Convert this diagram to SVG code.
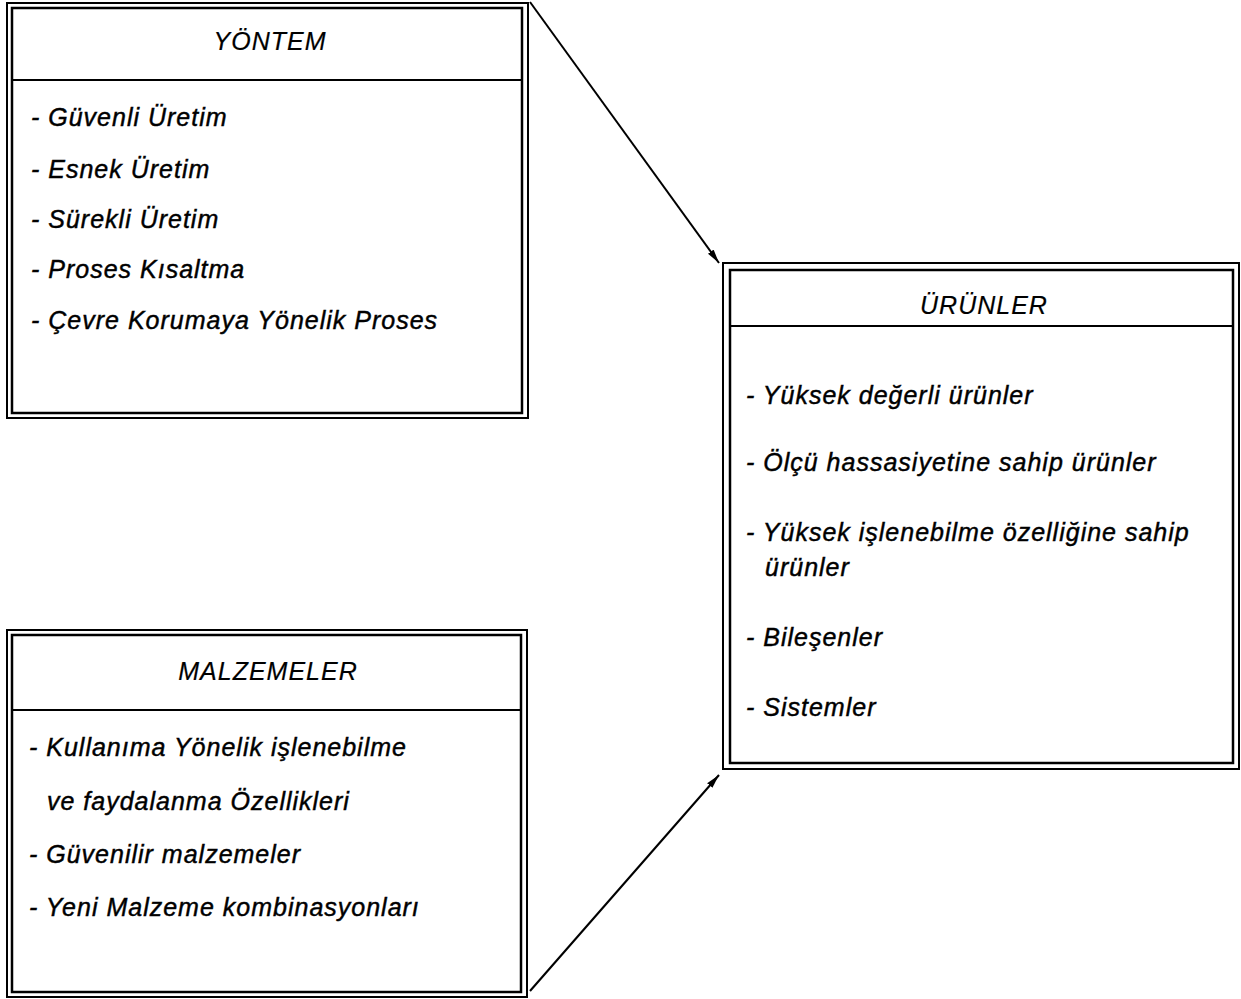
<svg xmlns="http://www.w3.org/2000/svg" width="1241" height="999" viewBox="0 0 1241 999">
<style>
.o{fill:none;stroke:#000;stroke-width:2}
.i{fill:none;stroke:#000;stroke-width:2.5}
.d{stroke:#000;stroke-width:2}
.t{font-family:"Liberation Sans",Arial,sans-serif;font-style:italic;font-size:25px;letter-spacing:1px;fill:#000;stroke:#000;stroke-width:0.45px}
.h{stroke-width:0.2px}
.c{text-anchor:middle}
.e{stroke:#000;stroke-width:2;fill:none}
</style>
<defs>
<marker id="ah" viewBox="0 0 14 8" refX="14" refY="4" markerWidth="14" markerHeight="8" markerUnits="userSpaceOnUse" orient="auto">
<path d="M0,0.5 L14,4 L0,7.5 Z" fill="#000"/>
</marker>
</defs>
<rect width="1241" height="999" fill="#fff"/>
<g id="yontem">
<rect class="o" x="7" y="3" width="521" height="415"/>
<rect class="i" x="12" y="8" width="510" height="405"/>
<line class="d" x1="12" y1="80" x2="522" y2="80"/>
<text class="t h c" x="270" y="50">YÖNTEM</text>
<text class="t" x="31" y="126">- Güvenli Üretim</text>
<text class="t" x="31" y="178">- Esnek Üretim</text>
<text class="t" x="31" y="228">- Sürekli Üretim</text>
<text class="t" x="31" y="278">- Proses Kısaltma</text>
<text class="t" x="31" y="329">- Çevre Korumaya Yönelik Proses</text>
</g>
<g id="malzemeler">
<rect class="o" x="7" y="630" width="520" height="367"/>
<rect class="i" x="12" y="635" width="509" height="357"/>
<line class="d" x1="12" y1="710" x2="521" y2="710"/>
<text class="t h c" x="268" y="680">MALZEMELER</text>
<text class="t" x="29" y="756">- Kullanıma Yönelik işlenebilme</text>
<text class="t" x="47" y="810">ve faydalanma Özellikleri</text>
<text class="t" x="29" y="863">- Güvenilir malzemeler</text>
<text class="t" x="29" y="916">- Yeni Malzeme kombinasyonları</text>
</g>
<g id="urunler">
<rect class="o" x="723" y="263" width="516" height="506"/>
<rect class="i" x="730" y="270" width="503" height="493"/>
<line class="d" x1="730" y1="326" x2="1233" y2="326"/>
<text class="t h c" x="984" y="314">ÜRÜNLER</text>
<text class="t" x="746" y="404">- Yüksek değerli ürünler</text>
<text class="t" x="746" y="471">- Ölçü hassasiyetine sahip ürünler</text>
<text class="t" x="746" y="541">- Yüksek işlenebilme özelliğine sahip</text>
<text class="t" x="765" y="576">ürünler</text>
<text class="t" x="746" y="646">- Bileşenler</text>
<text class="t" x="746" y="716">- Sistemler</text>
</g>
<g id="connectors">
<line class="e" x1="530" y1="2" x2="719" y2="263" marker-end="url(#ah)"/>
<line class="e" x1="530" y1="991" x2="719" y2="775" marker-end="url(#ah)"/>
</g>
</svg>
